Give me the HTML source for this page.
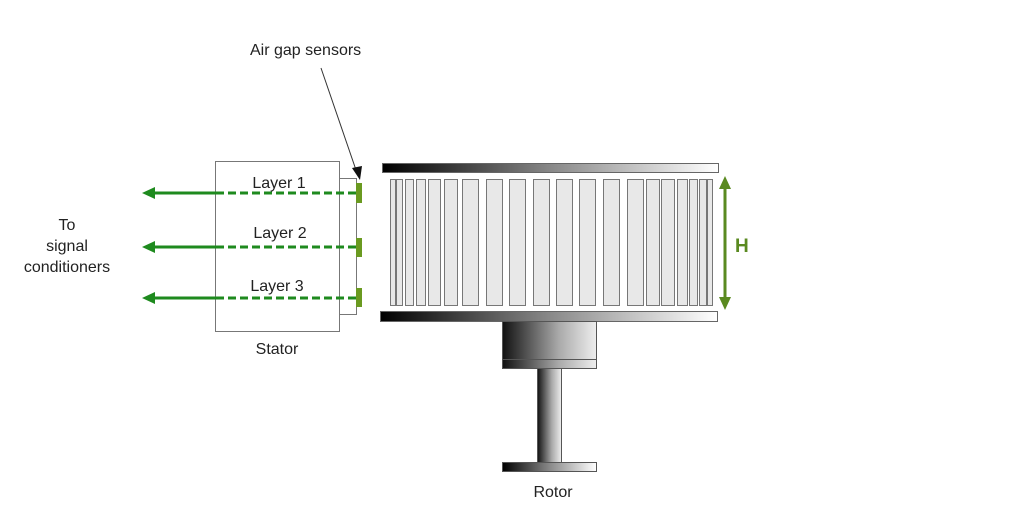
<!DOCTYPE html>
<html><head><meta charset="utf-8"><style>
html,body{margin:0;padding:0;background:#fff;}
svg{display:block;}
text{font-family:"Liberation Sans",Arial,sans-serif;font-size:16px;fill:#222;}
</style></head><body>
<svg width="1024" height="512" viewBox="0 0 1024 512" xmlns="http://www.w3.org/2000/svg">
<defs>
<linearGradient id="g" x1="0" x2="1" y1="0" y2="0">
<stop offset="0" stop-color="#000"/><stop offset="0.5" stop-color="#888"/><stop offset="1" stop-color="#fff"/>
</linearGradient>
<linearGradient id="gs" x1="0" x2="1" y1="0" y2="0">
<stop offset="0" stop-color="#111"/><stop offset="0.6" stop-color="#aaa"/><stop offset="1" stop-color="#eee"/>
</linearGradient>
</defs>
<text x="250" y="55">Air gap sensors</text>
<line x1="321" y1="68" x2="356" y2="170" stroke="#333" stroke-width="1"/>
<polygon points="352,168 362,166 360,180" fill="#111"/>
<text x="67" y="230" text-anchor="middle">To</text>
<text x="67" y="251" text-anchor="middle">signal</text>
<text x="67" y="272" text-anchor="middle">conditioners</text>
<rect x="215.5" y="161.5" width="124" height="170" fill="#fff" stroke="#777"/>
<polyline points="339.5,178.5 356.5,178.5 356.5,314.5 339.5,314.5" fill="none" stroke="#777"/>
<text x="277" y="354" text-anchor="middle">Stator</text>
<text x="279" y="188" text-anchor="middle">Layer 1</text>
<text x="280" y="238" text-anchor="middle">Layer 2</text>
<text x="277" y="291" text-anchor="middle">Layer 3</text>
<g stroke="#1e8a1e" stroke-width="3">
<line x1="152" y1="193" x2="216" y2="193"/><line x1="216" y1="193" x2="356" y2="193" stroke-dasharray="8,4"/>
<line x1="152" y1="247" x2="216" y2="247"/><line x1="216" y1="247" x2="356" y2="247" stroke-dasharray="8,4"/>
<line x1="152" y1="298" x2="216" y2="298"/><line x1="216" y1="298" x2="356" y2="298" stroke-dasharray="8,4"/>
</g>
<g fill="#1e8a1e">
<polygon points="142,193 155,187 155,199"/>
<polygon points="142,247 155,241 155,253"/>
<polygon points="142,298 155,292 155,304"/>
</g>
<g fill="#6a9a20">
<rect x="356" y="183" width="6" height="20"/>
<rect x="356" y="238" width="6" height="19"/>
<rect x="356" y="288" width="6" height="19"/>
</g>
<rect x="382.5" y="163.5" width="336" height="9" fill="url(#g)" stroke="#666"/>
<rect x="380.5" y="311.5" width="337" height="10" fill="url(#g)" stroke="#666"/>
<g fill="#e8e8e8" stroke="#777">
<rect x="390.5" y="179.5" width="5" height="126"/>
<rect x="396.5" y="179.5" width="6" height="126"/>
<rect x="405.5" y="179.5" width="8" height="126"/>
<rect x="416.5" y="179.5" width="9" height="126"/>
<rect x="428.5" y="179.5" width="12" height="126"/>
<rect x="444.5" y="179.5" width="13" height="126"/>
<rect x="462.5" y="179.5" width="16" height="126"/>
<rect x="486.5" y="179.5" width="16" height="126"/>
<rect x="509.5" y="179.5" width="16" height="126"/>
<rect x="533.5" y="179.5" width="16" height="126"/>
<rect x="556.5" y="179.5" width="16" height="126"/>
<rect x="579.5" y="179.5" width="16" height="126"/>
<rect x="603.5" y="179.5" width="16" height="126"/>
<rect x="627.5" y="179.5" width="16" height="126"/>
<rect x="646.5" y="179.5" width="13" height="126"/>
<rect x="661.5" y="179.5" width="13" height="126"/>
<rect x="677.5" y="179.5" width="10" height="126"/>
<rect x="689.5" y="179.5" width="8" height="126"/>
<rect x="699.5" y="179.5" width="7" height="126"/>
<rect x="707.5" y="179.5" width="5" height="126"/>
</g>
<rect x="502.5" y="321.5" width="94" height="47" fill="url(#gs)" stroke="#555"/>
<line x1="502" y1="359.5" x2="597" y2="359.5" stroke="#555"/>
<rect x="537.5" y="368.5" width="24" height="94" fill="url(#gs)" stroke="#555"/>
<rect x="502.5" y="462.5" width="94" height="9" fill="url(#g)" stroke="#555"/>
<text x="553" y="497" text-anchor="middle">Rotor</text>
<line x1="725" y1="186" x2="725" y2="300" stroke="#5a8a20" stroke-width="3"/>
<polygon points="725,176 719,189 731,189" fill="#5a8a20"/>
<polygon points="725,310 719,297 731,297" fill="#5a8a20"/>
<text x="735" y="252" style="font-size:19px;font-weight:bold;fill:#5a8a20">H</text>
</svg>
</body></html>
